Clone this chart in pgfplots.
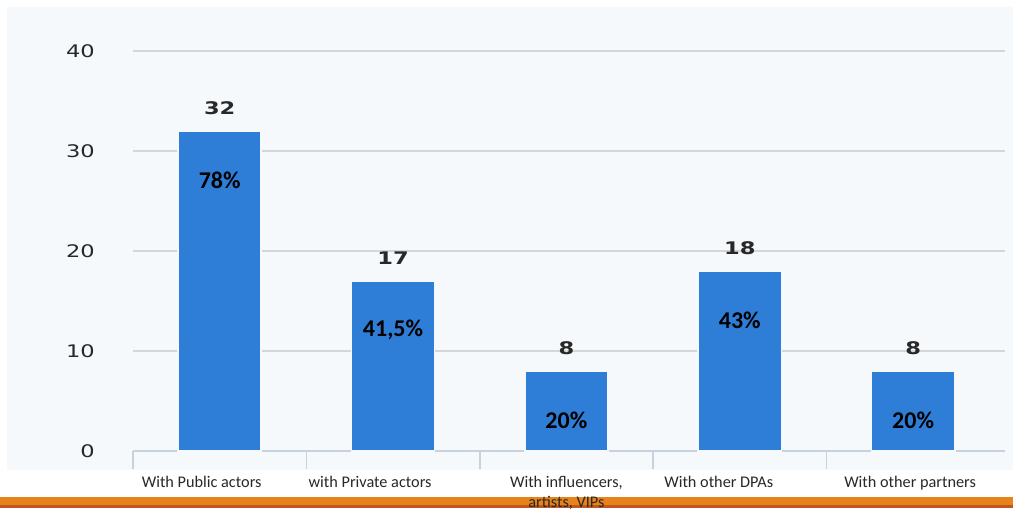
\documentclass[border=0pt]{standalone}
\usepackage{pgfplots}
\pgfplotsset{compat=1.18}
\usepackage{fontspec}
\setmainfont{Carlito}
\newfontfamily\numfont[FakeStretch=1.3]{DejaVu Sans}
\definecolor{barblue}{RGB}{46,125,214}
\definecolor{panel}{RGB}{245,249,252}
\definecolor{gridc}{RGB}{214,214,214}
\definecolor{axisc}{RGB}{200,210,222}
\definecolor{orange1}{RGB}{232,131,26}
\definecolor{orange2}{RGB}{192,86,32}
\definecolor{txt}{RGB}{40,40,40}

\pgfplotstableread{
x y p
0 32 78
1 17 41,5
2 8 20
3 18 43
4 8 20
}\counts

\begin{document}
\begin{tikzpicture}
% page is 1013x508 px at 0.75pt per px
\fill[white] (0,0) rectangle (759.75pt,381pt);
\fill[panel] (5.25pt,28.5pt) rectangle (759.75pt,375.75pt);
\fill[orange2] (0,0) rectangle (759.75pt,2.5pt);
\fill[orange1] (0,2.5pt) rectangle (759.75pt,8.25pt);

\begin{axis}[
    at={(99.75pt,42.75pt)}, anchor=south west,
    scale only axis, width=654pt, height=300pt,
    xmin=-0.5, xmax=4.53, ymin=0, ymax=40,
    axis x line*=bottom, axis y line*=left,
    y axis line style={draw=none},
    x axis line style={axisc, line width=1.2pt},
    xtick={0,...,4},
    xticklabels={
        {\hbox{\kern-27pt With Public actors}},
        {\hbox{\kern-34.5pt with Private actors}},
        {With influencers,\\artists, VIPs},
        {\hbox{\kern-31.5pt With other DPAs}},
        {\hbox{\kern-4.5pt With other partners}}},
    minor xtick={-0.5,0.5,...,3.5},
    major tick length=0pt,
    minor tick length=13.5pt,
    tick align=outside,
    minor x tick style={axisc, line width=1.2pt},
    xticklabel style={font=\fontsize{12.2}{14.5}\selectfont, text=txt, align=center,
        anchor=north, inner sep=0pt, yshift=-19pt},
    ytick={0,10,...,40},
    ymajorgrids,
    major grid style={gridc, line width=1.3pt},
    /pgf/number format/assume math mode=true,
    yticklabel style={font=\numfont\fontsize{13}{14}\selectfont, text=txt,
        anchor=east, inner sep=0pt, xshift=-28.5pt},
    clip=false,
]
\addplot[ybar, bar width=0.48, fill=barblue, draw=panel, line width=1.2pt,
    point meta=explicit symbolic,
    nodes near coords={\numfont\bfseries\pgfplotspointmeta},
    every node near coord/.append style={anchor=center, yshift=17.25pt,
        font=\fontsize{13}{14}\selectfont, text=txt}]
    table[x=x, y=y, meta=y] {\counts};
\addplot[draw=none, mark=none,
    point meta=explicit symbolic,
    nodes near coords={\bfseries\pgfplotspointmeta\%},
    every node near coord/.append style={anchor=center, yshift=-36.75pt,
        font=\fontsize{18}{20}\selectfont, text=black}]
    table[x=x, y=y, meta=p] {\counts};
\end{axis}
\pgfresetboundingbox
\useasboundingbox (0,0) rectangle (759.75pt,381pt);
\end{tikzpicture}
\end{document}
